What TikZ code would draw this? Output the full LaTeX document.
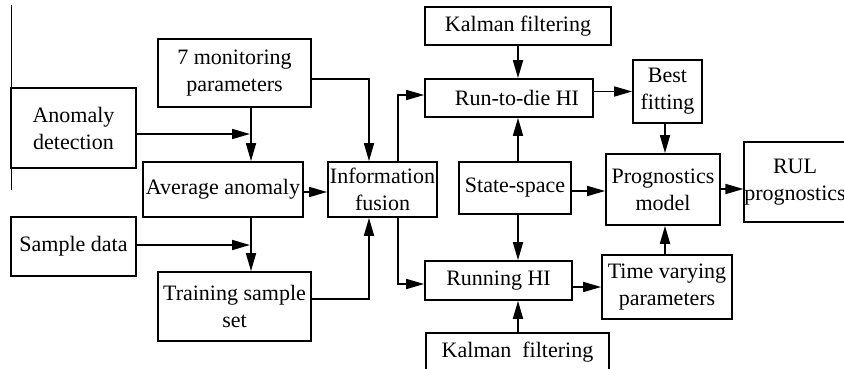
\documentclass[tikz,border=0pt]{standalone}
\usepackage{fontspec}
\setmainfont{Liberation Serif}
\usetikzlibrary{arrows.meta,calc}
\begin{document}
\begin{tikzpicture}[x=1pt,y=-1pt,
  box/.style={draw,line width=1.7pt,inner sep=0pt,align=center,
    font=\fontsize{22}{27}\selectfont},
  arr/.style={line width=1.7pt,-{Triangle[length=18pt,width=10pt]}},
  ln/.style={line width=1.7pt}]
\useasboundingbox (0,0) rectangle (844,369);
\begin{scope}
\clip (0,0) rectangle (844,369);
% stray vertical line
\draw[line width=0.8pt] (11,5) -- (11,190);
\node[box,minimum width=125pt,minimum height=80pt] (AD) at (73.5,128) {Anomaly\\detection};
\node[box,minimum width=153pt,minimum height=68pt] (MP) at (234.5,73) {7 monitoring\\parameters};
\node[box,minimum width=160pt,minimum height=55pt] (AA) at (223,189.5) {Average anomaly};
\node[box,minimum width=125pt,minimum height=59pt] (SD) at (73.5,246.5) {Sample data};
\node[box,minimum width=153pt,minimum height=69pt] (TS) at (234.5,306.5) {Training sample\\set};
\node[box,minimum width=109pt,minimum height=55pt] (IF) at (382.5,189.5) {Information\\fusion};
\node[box,minimum width=186pt,minimum height=38pt] (KF1) at (518,26) {Kalman filtering};
\node[box,minimum width=168pt,minimum height=38pt] (RD) at (509,98) {\hspace*{16pt}Run-to-die HI};
\node[box,minimum width=112pt,minimum height=52pt] (SS) at (515,188) {State-space};
\node[box,minimum width=147pt,minimum height=39pt] (RH) at (498.5,280.5) {Running HI};
\node[box,minimum width=183pt,minimum height=38pt] (KF2) at (517.5,352) {Kalman\ \ filtering};
\node[box,minimum width=69pt,minimum height=63pt] (BF) at (667.5,91.5) {Best\\fitting};
\node[box,minimum width=114pt,minimum height=71pt] (PM) at (663,189.5) {Prognostics\\model};
\node[box,minimum width=100pt,minimum height=80pt] (RUL) at (795,182) {RUL\\prognostics};
\node[box,minimum width=130pt,minimum height=64pt] (TV) at (667,287) {Time varying\\parameters};
\end{scope}
% junction coordinates
\coordinate (j1) at (251,134);
\coordinate (j2) at (251,245);
\coordinate (j3) at (369,79);
\coordinate (j4) at (369,299);
\coordinate (j5) at (398,0);
\coordinate (j6) at (518,0);
\coordinate (j7) at (665,0);
% connectors
\draw[arr] (AD.east|-j1) -- ($(j1)+(-1,0)$);
\draw[arr] (MP.south-|j1) -- (AA.north-|j1);
\draw[arr] (SD.east|-j2) -- ($(j2)+(-1,0)$);
\draw[arr] (AA.south-|j2) -- (TS.north-|j2);
\draw[arr] (AA.east|-0,192) -- (IF.west|-0,192);
\draw[arr] (MP.east|-j3) -| (IF.north-|j3);
\draw[arr] (TS.east|-j4) -| (IF.south-|j4);
\draw[arr] (IF.north-|j5) |- (RD.west|-0,95);
\draw[arr] (IF.south-|j5) |- (RH.west|-0,284);
\draw[arr] (KF1.south-|j6) -- (RD.north-|j6);
\draw[arr] (SS.north-|j6) -- (RD.south-|j6);
\draw[arr] (SS.south-|j6) -- (RH.north-|j6);
\draw[arr] (KF2.north-|j6) -- (RH.south-|j6);
\draw[arr] (RD.east|-BF.west) -- (BF.west);
\draw[arr] (BF.south-|j7) -- (PM.north-|j7);
\draw[arr] (SS.east|-0,191) -- (PM.west|-0,191);
\draw[arr] (PM.east|-0,189) -- (RUL.west|-0,189);
\draw[arr] (RH.east|-TV.west) -- (TV.west);
\draw[arr] (TV.north-|j7) -- (PM.south-|j7);
\end{tikzpicture}
\end{document}
